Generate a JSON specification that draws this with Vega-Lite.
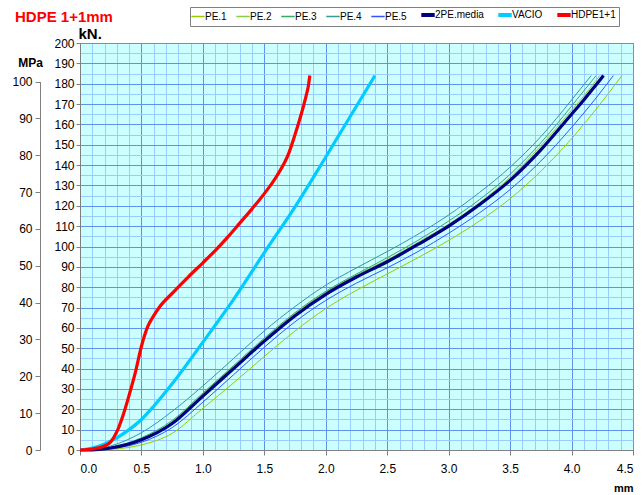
{
  "$schema": "https://vega.github.io/schema/vega-lite/v6.json",
  "width": 553,
  "height": 407,
  "autosize": {"type": "none"},
  "padding": {"left": 80, "top": 43, "right": 11, "bottom": 45},
  "background": "white",
  "title": {"text": "HDPE 1+1mm", "color": "#FF0000", "font": "Liberation Sans", "fontSize": 15, "fontWeight": "bold", "anchor": "start", "frame": "group", "dx": -65, "offset": 0, "dy": 18},
  "config": {
    "view": {"fill": "#CCFFFF", "stroke": "#808080"},
    "axis": {"labelFont": "Liberation Sans", "labelFontSize": 12, "labelColor": "#000000", "domainColor": "#808080", "tickColor": "#808080", "titleFont": "Liberation Sans", "titleColor": "#000000", "titleFontWeight": "bold"},
    "legend": {"labelFont": "Liberation Sans"}
  },
  "data": {"values": [
    {"s":"PE.1","mm":0,"kN":0},{"s":"PE.1","mm":0.25,"kN":0.4},{"s":"PE.1","mm":0.5,"kN":2.5},{"s":"PE.1","mm":0.75,"kN":8.2},{"s":"PE.1","mm":1.0,"kN":20.5},{"s":"PE.1","mm":1.25,"kN":33},{"s":"PE.1","mm":1.5,"kN":46},{"s":"PE.1","mm":1.75,"kN":58.5},{"s":"PE.1","mm":2.0,"kN":69.5},{"s":"PE.1","mm":2.25,"kN":78.5},{"s":"PE.1","mm":2.5,"kN":86.5},{"s":"PE.1","mm":2.75,"kN":94.5},{"s":"PE.1","mm":3.0,"kN":103},{"s":"PE.1","mm":3.25,"kN":112.5},{"s":"PE.1","mm":3.5,"kN":123.5},{"s":"PE.1","mm":3.75,"kN":137},{"s":"PE.1","mm":4.0,"kN":153},{"s":"PE.1","mm":4.2,"kN":167.5},{"s":"PE.1","mm":4.41,"kN":184},
    {"s":"PE.2","mm":0,"kN":0},{"s":"PE.2","mm":0.25,"kN":1},{"s":"PE.2","mm":0.5,"kN":5.5},{"s":"PE.2","mm":0.75,"kN":13.8},{"s":"PE.2","mm":1.0,"kN":27.5},{"s":"PE.2","mm":1.25,"kN":41},{"s":"PE.2","mm":1.5,"kN":54.5},{"s":"PE.2","mm":1.75,"kN":67},{"s":"PE.2","mm":2.0,"kN":77.5},{"s":"PE.2","mm":2.25,"kN":86},{"s":"PE.2","mm":2.5,"kN":93.5},{"s":"PE.2","mm":2.75,"kN":102},{"s":"PE.2","mm":3.0,"kN":111},{"s":"PE.2","mm":3.25,"kN":121.5},{"s":"PE.2","mm":3.5,"kN":134},{"s":"PE.2","mm":3.75,"kN":149.5},{"s":"PE.2","mm":4.0,"kN":167},{"s":"PE.2","mm":4.1,"kN":174},{"s":"PE.2","mm":4.23,"kN":184},
    {"s":"PE.3","mm":0,"kN":0},{"s":"PE.3","mm":0.25,"kN":1.3},{"s":"PE.3","mm":0.5,"kN":6},{"s":"PE.3","mm":0.75,"kN":14.5},{"s":"PE.3","mm":1.0,"kN":28},{"s":"PE.3","mm":1.25,"kN":41.5},{"s":"PE.3","mm":1.5,"kN":55},{"s":"PE.3","mm":1.75,"kN":67.5},{"s":"PE.3","mm":2.0,"kN":78},{"s":"PE.3","mm":2.25,"kN":86.5},{"s":"PE.3","mm":2.5,"kN":94.5},{"s":"PE.3","mm":2.75,"kN":103},{"s":"PE.3","mm":3.0,"kN":112.5},{"s":"PE.3","mm":3.25,"kN":123},{"s":"PE.3","mm":3.5,"kN":135.5},{"s":"PE.3","mm":3.75,"kN":151},{"s":"PE.3","mm":4.0,"kN":169},{"s":"PE.3","mm":4.1,"kN":176.5},{"s":"PE.3","mm":4.2,"kN":184},
    {"s":"PE.4","mm":0,"kN":0},{"s":"PE.4","mm":0.1,"kN":0.3},{"s":"PE.4","mm":0.25,"kN":2},{"s":"PE.4","mm":0.5,"kN":8.5},{"s":"PE.4","mm":0.75,"kN":19},{"s":"PE.4","mm":1.0,"kN":31.5},{"s":"PE.4","mm":1.25,"kN":45},{"s":"PE.4","mm":1.5,"kN":58.5},{"s":"PE.4","mm":1.75,"kN":70.5},{"s":"PE.4","mm":2.0,"kN":81},{"s":"PE.4","mm":2.25,"kN":89.5},{"s":"PE.4","mm":2.5,"kN":97.5},{"s":"PE.4","mm":2.75,"kN":106},{"s":"PE.4","mm":3.0,"kN":115.5},{"s":"PE.4","mm":3.25,"kN":126.5},{"s":"PE.4","mm":3.5,"kN":139},{"s":"PE.4","mm":3.75,"kN":154},{"s":"PE.4","mm":4.0,"kN":172},{"s":"PE.4","mm":4.1,"kN":179.5},{"s":"PE.4","mm":4.16,"kN":184},
    {"s":"PE.5","mm":0,"kN":0},{"s":"PE.5","mm":0.25,"kN":0.7},{"s":"PE.5","mm":0.5,"kN":3.8},{"s":"PE.5","mm":0.75,"kN":11},{"s":"PE.5","mm":1.0,"kN":23.5},{"s":"PE.5","mm":1.25,"kN":37},{"s":"PE.5","mm":1.5,"kN":50.5},{"s":"PE.5","mm":1.75,"kN":63},{"s":"PE.5","mm":2.0,"kN":73.5},{"s":"PE.5","mm":2.25,"kN":82},{"s":"PE.5","mm":2.5,"kN":89.5},{"s":"PE.5","mm":2.75,"kN":97.5},{"s":"PE.5","mm":3.0,"kN":106.5},{"s":"PE.5","mm":3.25,"kN":116.5},{"s":"PE.5","mm":3.5,"kN":128},{"s":"PE.5","mm":3.75,"kN":142},{"s":"PE.5","mm":4.0,"kN":158.5},{"s":"PE.5","mm":4.2,"kN":173},{"s":"PE.5","mm":4.34,"kN":184},
    {"s":"2PE.media","mm":0,"kN":0},{"s":"2PE.media","mm":0.1,"kN":0.1},{"s":"2PE.media","mm":0.25,"kN":1},{"s":"2PE.media","mm":0.5,"kN":5},{"s":"2PE.media","mm":0.75,"kN":13},{"s":"2PE.media","mm":1.0,"kN":26.5},{"s":"2PE.media","mm":1.25,"kN":40},{"s":"2PE.media","mm":1.5,"kN":53.5},{"s":"2PE.media","mm":1.75,"kN":66},{"s":"2PE.media","mm":2.0,"kN":76.5},{"s":"2PE.media","mm":2.25,"kN":85},{"s":"2PE.media","mm":2.5,"kN":92.5},{"s":"2PE.media","mm":2.75,"kN":101},{"s":"2PE.media","mm":3.0,"kN":110},{"s":"2PE.media","mm":3.25,"kN":120.5},{"s":"2PE.media","mm":3.5,"kN":132.5},{"s":"2PE.media","mm":3.75,"kN":147.5},{"s":"2PE.media","mm":4.0,"kN":165},{"s":"2PE.media","mm":4.1,"kN":172},{"s":"2PE.media","mm":4.2,"kN":179.5},{"s":"2PE.media","mm":4.26,"kN":184},
    {"s":"VACIO","mm":0,"kN":0},{"s":"VACIO","mm":0.1,"kN":1},{"s":"VACIO","mm":0.2,"kN":3},{"s":"VACIO","mm":0.3,"kN":6},{"s":"VACIO","mm":0.4,"kN":10},{"s":"VACIO","mm":0.5,"kN":15},{"s":"VACIO","mm":0.6,"kN":21.5},{"s":"VACIO","mm":0.75,"kN":32.5},{"s":"VACIO","mm":1.0,"kN":53},{"s":"VACIO","mm":1.25,"kN":74},{"s":"VACIO","mm":1.5,"kN":97},{"s":"VACIO","mm":1.75,"kN":119.5},{"s":"VACIO","mm":2.0,"kN":144},{"s":"VACIO","mm":2.2,"kN":164},{"s":"VACIO","mm":2.4,"kN":184},
    {"s":"HDPE1+1","mm":0,"kN":0},{"s":"HDPE1+1","mm":0.1,"kN":0.5},{"s":"HDPE1+1","mm":0.2,"kN":2},{"s":"HDPE1+1","mm":0.25,"kN":4},{"s":"HDPE1+1","mm":0.3,"kN":9},{"s":"HDPE1+1","mm":0.35,"kN":17},{"s":"HDPE1+1","mm":0.4,"kN":27},{"s":"HDPE1+1","mm":0.45,"kN":38},{"s":"HDPE1+1","mm":0.5,"kN":51},{"s":"HDPE1+1","mm":0.55,"kN":60.5},{"s":"HDPE1+1","mm":0.6,"kN":66},{"s":"HDPE1+1","mm":0.65,"kN":70.5},{"s":"HDPE1+1","mm":0.75,"kN":77},{"s":"HDPE1+1","mm":0.88,"kN":85},{"s":"HDPE1+1","mm":1.0,"kN":92},{"s":"HDPE1+1","mm":1.1,"kN":98},{"s":"HDPE1+1","mm":1.2,"kN":104.5},{"s":"HDPE1+1","mm":1.3,"kN":111.5},{"s":"HDPE1+1","mm":1.4,"kN":118.5},{"s":"HDPE1+1","mm":1.5,"kN":126},{"s":"HDPE1+1","mm":1.6,"kN":134.5},{"s":"HDPE1+1","mm":1.7,"kN":146},{"s":"HDPE1+1","mm":1.75,"kN":155},{"s":"HDPE1+1","mm":1.8,"kN":165},{"s":"HDPE1+1","mm":1.84,"kN":174},{"s":"HDPE1+1","mm":1.86,"kN":179.5},{"s":"HDPE1+1","mm":1.87,"kN":184}
  ]},
  "layer": [
    {
      "mark": {"type": "line", "opacity": 0},
      "encoding": {
        "x": {"field": "mm", "type": "quantitative", "scale": {"domain": [0, 4.5], "nice": false},
          "axis": {"orient": "bottom", "values": [0.1,0.2,0.3,0.4,0.6,0.7,0.8,0.9,1.1,1.2,1.3,1.4,1.6,1.7,1.8,1.9,2.1,2.2,2.3,2.4,2.6,2.7,2.8,2.9,3.1,3.2,3.3,3.4,3.6,3.7,3.8,3.9,4.1,4.2,4.3,4.4], "grid": true, "gridColor": "#99CCFF", "gridOpacity": 1, "labels": false, "ticks": false, "domain": false, "title": null}},
        "y": {"field": "kN", "type": "quantitative", "scale": {"domain": [0, 200], "nice": false},
          "axis": {"orient": "left", "values": [5,15,25,35,45,55,65,75,85,95,105,115,125,135,145,155,165,175,185,195], "grid": true, "gridColor": "#99CCFF", "gridOpacity": 1, "labels": false, "ticks": false, "domain": false, "title": null}},
        "detail": {"field": "s"}
      }
    },
    {
      "mark": {"type": "line", "interpolate": "monotone"},
      "encoding": {
        "x": {"field": "mm", "type": "quantitative", "scale": {"domain": [0, 4.5], "nice": false},
          "axis": {"orient": "bottom", "values": [0,0.5,1,1.5,2,2.5,3,3.5,4,4.5], "format": ".1f", "grid": true, "gridColor": "#6090F0", "gridOpacity": 1, "tickSize": 5, "labelPadding": 8, "title": "mm", "titleFontSize": 11, "titleAnchor": "end", "titleAlign": "right", "titleX": 553, "titleY": 41, "titleBaseline": "alphabetic"}},
        "y": {"field": "kN", "type": "quantitative", "scale": {"domain": [0, 200], "nice": false},
          "axis": {"orient": "left", "values": [0,10,20,30,40,50,60,70,80,90,100,110,120,130,140,150,160,170,180,190,200], "grid": true, "gridColor": "#6090F0", "gridOpacity": 1, "tickSize": 4, "labelPadding": 2, "title": "kN.", "titleFontSize": 15, "titleAngle": 0, "titleAlign": "left", "titleBaseline": "alphabetic", "titleX": -2, "titleY": -5}},
        "color": {"field": "s", "type": "nominal",
          "scale": {"domain": ["PE.1","PE.2","PE.3","PE.4","PE.5","2PE.media","VACIO","HDPE1+1"], "range": ["#99CC00","#88CC44","#33AA66","#339999","#3355FF","#000080","#00CCFF","#FF0000"]},
          "legend": {"orient": "none", "legendX": 110, "legendY": -36, "direction": "horizontal", "title": null, "strokeColor": "#808080", "padding": 3, "symbolType": "stroke", "symbolSize": 180, "labelFontSize": 10, "labelOffset": 2, "columnPadding": 6, "fillColor": "white",
            "encode": {"symbols": {"update": {"strokeWidth": {"signal": "indexof(['2PE.media','VACIO','HDPE1+1'], datum.value) >= 0 ? 4 : 1.5"}}}}}},
        "strokeWidth": {"condition": {"test": "indexof(['2PE.media','VACIO','HDPE1+1'], datum.s) >= 0", "value": 3.2}, "value": 1}
      }
    },
    {
      "data": {"values": [{"mpa": 0}, {"mpa": 100}]},
      "mark": {"type": "point", "opacity": 0},
      "encoding": {
        "y": {"field": "mpa", "type": "quantitative", "scale": {"domain": [0, 100], "range": [407, 38.5], "nice": false},
          "axis": {"orient": "left", "offset": 40, "values": [0,10,20,30,40,50,60,70,80,90,100], "grid": false, "tickSize": 5, "labelPadding": 3, "title": "MPa", "titleFontSize": 12, "titleAngle": 0, "titleAlign": "center", "titleBaseline": "alphabetic", "titleX": -10, "titleY": 23}}
      }
    }
  ],
  "resolve": {"scale": {"x": "independent", "y": "independent"}, "axis": {"x": "independent", "y": "independent"}}
}
